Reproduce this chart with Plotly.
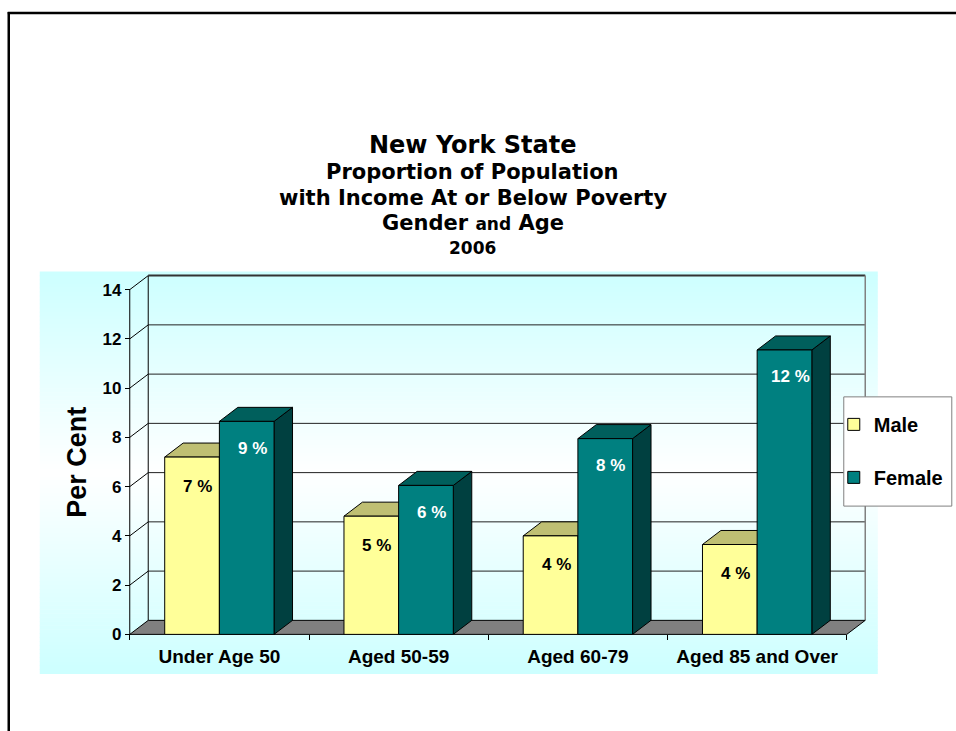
import plotly.graph_objects as go

# ---------------- data ----------------
categories = ["Under Age 50", "Aged 50-59", "Aged 60-79", "Aged 85 and Over"]
male_values = [7.2, 4.8, 4.0, 3.65]
female_values = [8.65, 6.05, 7.95, 11.55]
male_labels = ["7 %", "5 %", "4 %", "4 %"]
female_labels = ["9 %", "6 %", "8 %", "12 %"]
y_tick_values = [0, 2, 4, 6, 8, 10, 12, 14]
title_lines = ["New York State", "Proportion of Population",
               "with Income At or Below Poverty", "Gender and Age", "2006"]

# ---------------- geometry (layout constants) ----------------
W, H = 956, 731
X_EDGE_PX = 130.0      # pixel of left category boundary (-0.5)
UNIT_X = 179.25        # px per category
Y0_PX = 634.0          # pixel of value 0 (front plane)
UNIT_Y = 24.57         # px per percent
DX = 0.103             # depth offset in category units
DY = 0.57              # depth offset in value units
XR = [-0.56, 3.5 + DX + 0.06]
YR = [-0.35, 14 + DY + 0.35]
BAR_W = 0.305

l = X_EDGE_PX + (XR[0] + 0.5) * UNIT_X
plot_w = (XR[1] - XR[0]) * UNIT_X
r = W - l - plot_w
bottom_px = Y0_PX - YR[0] * UNIT_Y
b = H - bottom_px
plot_h = (YR[1] - YR[0]) * UNIT_Y
t = bottom_px - plot_h


def px_x(px):
    return (px - l) / plot_w


def px_y(py):
    return (bottom_px - py) / plot_h


MALE_FRONT, MALE_TOP, MALE_SIDE = "#FFFF99", "#BFBF73", "#9A9A50"
FEM_FRONT, FEM_TOP, FEM_SIDE = "#008080", "#005F5C", "#004040"
LABEL_FONT = "Liberation Sans, Arial"

fig = go.Figure()
fig.add_trace(go.Bar(name="<b>Male</b>", x=categories, y=male_values,
                     marker=dict(color=MALE_FRONT, line=dict(color="black", width=1)),
                     legendgroup="m"))
fig.add_trace(go.Bar(name="<b>Female</b>", x=categories, y=female_values,
                     marker=dict(color=FEM_FRONT, line=dict(color="black", width=1)),
                     legendgroup="f"))

shapes = []
# background gradient (cyan -> white -> cyan)
bg_x0, bg_x1, bg_y0, bg_y1 = 40, 878, 272, 673
n = 100
for i in range(n):
    f = (i + 0.5) / n
    k = abs(f - 0.5) * 2  # 1 at edges, 0 in the middle
    rr = int(round(255 - 51 * k))
    col = f"rgb({rr},255,255)"
    ya = bg_y0 + (bg_y1 - bg_y0) * i / n
    yb = bg_y0 + (bg_y1 - bg_y0) * (i + 1) / n + 0.6
    shapes.append(dict(type="rect", xref="paper", yref="paper",
                       x0=px_x(bg_x0), x1=px_x(bg_x1), y0=px_y(ya), y1=px_y(yb),
                       fillcolor=col, line=dict(width=0), layer="below"))
# page frame lines
shapes.append(dict(type="line", xref="paper", yref="paper", x0=px_x(8), x1=px_x(960),
                   y0=px_y(14), y1=px_y(14), line=dict(color="black", width=2.5), layer="below"))
shapes.append(dict(type="line", xref="paper", yref="paper", x0=px_x(9), x1=px_x(9),
                   y0=px_y(13), y1=px_y(740), line=dict(color="black", width=2.5), layer="below"))

L, R = -0.5, len(categories) - 0.5
# gridlines: left wall diagonals + back wall horizontals
for v in y_tick_values[1:]:
    shapes.append(dict(type="line", x0=L, y0=v, x1=L + DX, y1=v + DY,
                       line=dict(color="black", width=1), layer="below"))
    shapes.append(dict(type="line", x0=L + DX, y0=v + DY, x1=R + DX, y1=v + DY,
                       line=dict(color="#222222" if v < 14 else "#333333",
                                 width=1 if v < 14 else 2), layer="below"))
# back wall verticals
shapes.append(dict(type="line", x0=L + DX, y0=DY, x1=L + DX, y1=14 + DY,
                   line=dict(color="black", width=1), layer="below"))
shapes.append(dict(type="line", x0=R + DX, y0=DY, x1=R + DX, y1=14 + DY,
                   line=dict(color="#808080", width=1.5), layer="below"))
# front vertical axis line
shapes.append(dict(type="line", x0=L, y0=0, x1=L, y1=14,
                   line=dict(color="black", width=1), layer="below"))
# floor
shapes.append(dict(type="path",
                   path=f"M {L},0 L {R},0 L {R + DX},{DY} L {L + DX},{DY} Z",
                   fillcolor="#808080", line=dict(color="black", width=1), layer="below"))


def faces(x0, v, top_col, side_col):
    x1 = x0 + BAR_W
    return [
        dict(type="path",
             path=f"M {x1},0 L {x1},{v} L {x1 + DX},{v + DY} L {x1 + DX},{DY} Z",
             fillcolor=side_col, line=dict(color="black", width=1), layer="below"),
        dict(type="path",
             path=f"M {x0},{v} L {x1},{v} L {x1 + DX},{v + DY} L {x0 + DX},{v + DY} Z",
             fillcolor=top_col, line=dict(color="black", width=1), layer="below"),
    ]


annotations = []
for j in range(len(categories)):
    shapes += faces(j - BAR_W, male_values[j], MALE_TOP, MALE_SIDE)
    shapes += faces(j, female_values[j], FEM_TOP, FEM_SIDE)
    annotations.append(dict(x=j - BAR_W / 2 + DX * 0.3, y=male_values[j], xref="x", yref="y",
                            text=f"<b>{male_labels[j]}</b>", showarrow=False, yshift=-29,
                            font=dict(family=LABEL_FONT, size=17, color="black")))
    annotations.append(dict(x=j + BAR_W / 2 + DX * 0.3, y=female_values[j], xref="x", yref="y",
                            text=f"<b>{female_labels[j]}</b>", showarrow=False, yshift=-27,
                            font=dict(family=LABEL_FONT, size=17, color="white")))

# legend box (drawn as a shape so the plotly legend entries can sit inside it)
shapes.append(dict(type="rect", xref="paper", yref="paper",
                   x0=px_x(844), x1=px_x(952), y0=px_y(506), y1=px_y(397),
                   fillcolor="white", line=dict(color="#808080", width=1), layer="above"))

# title lines
title_specs = [(146, 24), (173, 21), (199, 21), (224, 21), (248, 17)]
for (py, size), txt in zip(title_specs, title_lines):
    if txt == "Gender and Age":
        txt = "Gender <span style='font-size:17px'>and</span> Age"
    annotations.append(dict(x=px_x(473), y=px_y(py), xref="paper", yref="paper",
                            text=f"<b>{txt}</b>", showarrow=False, xanchor="center", yanchor="middle",
                            font=dict(family="DejaVu Sans", size=size, color="black")))
# y axis title
annotations.append(dict(x=px_x(77), y=px_y(462), xref="paper", yref="paper", text="<b>Per Cent</b>",
                        textangle=-90, showarrow=False, xanchor="center", yanchor="middle",
                        font=dict(family=LABEL_FONT, size=27, color="black")))

fig.update_layout(
    width=W, height=H,
    margin=dict(l=l, r=r, t=t, b=b, pad=0, autoexpand=False),
    paper_bgcolor="white", plot_bgcolor="rgba(0,0,0,0)",
    barmode="group", bargap=0.39, bargroupgap=0,
    shapes=shapes, annotations=annotations,
    showlegend=True,
    legend=dict(x=px_x(834), y=px_y(405), xanchor="left", yanchor="top",
                bgcolor="rgba(0,0,0,0)", borderwidth=0,
                font=dict(family=LABEL_FONT, size=20, color="black"),
                tracegroupgap=24, traceorder="grouped"),
    xaxis=dict(type="category", categoryorder="array", categoryarray=categories,
               range=XR, anchor="free", position=px_y(Y0_PX),
               tickson="boundaries", ticks="outside", ticklen=5, tickcolor="black",
               showgrid=False, zeroline=False, showline=False,
               tickvals=categories, ticktext=[f"<b>{c}</b>" for c in categories],
               tickfont=dict(family=LABEL_FONT, size=19, color="black"),
               ticklabelstandoff=9),
    yaxis=dict(range=YR, anchor="free", position=px_x(X_EDGE_PX),
               tickvals=y_tick_values, ticktext=[f"<b>{v}</b>" for v in y_tick_values],
               ticks="outside", ticklen=5, tickcolor="black",
               showgrid=False, zeroline=False, showline=False,
               tickfont=dict(family=LABEL_FONT, size=17, color="black")),
    font=dict(family=LABEL_FONT),
)

fig.write_html("out.html", config={"displayModeBar": False},
               post_script="document.body.style.margin='0px';")
